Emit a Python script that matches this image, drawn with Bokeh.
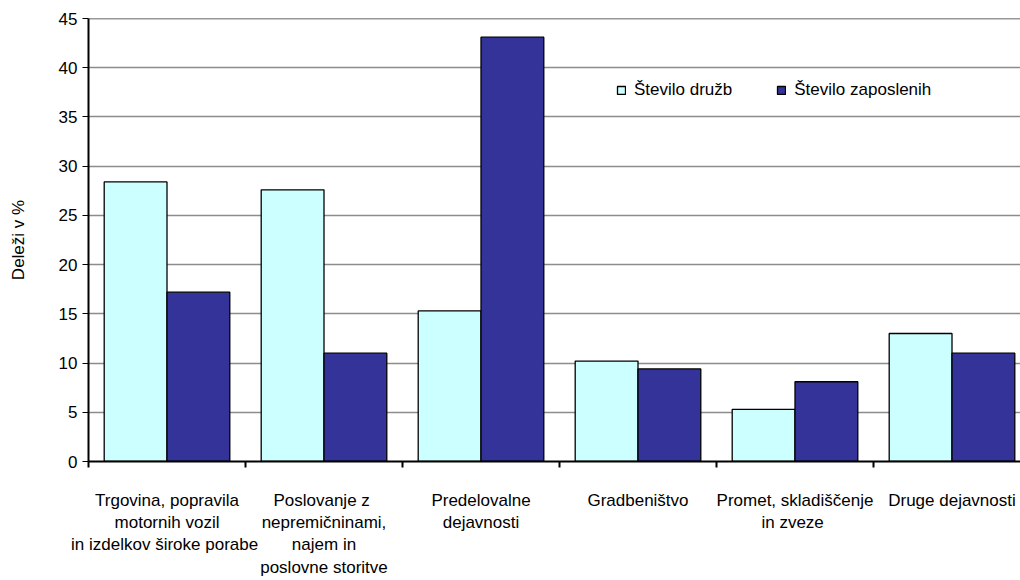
import numpy as np
from bokeh.plotting import figure
from bokeh.models import (ColumnDataSource, Range1d, FixedTicker, Span, Legend, LegendItem)
from bokeh.embed import file_html
from bokeh.resources import INLINE

categories = [
    "Trgovina, popravila\nmotornih vozil\nin izdelkov  široke porabe",
    "Poslovanje  z\nnepremičninami,\nnajem in\nposlovne storitve",
    "Predelovalne\ndejavnosti",
    "Gradbeništvo",
    "Promet, skladiščenje\nin  zveze",
    "Druge dejavnosti",
]
stevilo_druzb = [28.4, 27.6, 15.3, 10.2, 5.3, 13.0]
stevilo_zaposlenih = [17.2, 11.0, 43.1, 9.4, 8.1, 11.0]
y_ticks = [0, 5, 10, 15, 20, 25, 30, 35, 40, 45]
series_names = ["Število družb", "Število zaposlenih"]
colors = ["#CCFFFF", "#333399"]

FONT = "Liberation Sans"
FS = "17px"
n = len(categories)
idx = np.arange(n)
src = ColumnDataSource(dict(
    xl=idx + 0.3, xr=idx + 0.7,
    druzb=stevilo_druzb, zap=stevilo_zaposlenih,
))

p = figure(frame_width=932, frame_height=443, output_backend="svg", toolbar_location=None,
           x_range=Range1d(0, 932 / 157), y_range=Range1d(0, 45),
           min_border_left=88, min_border_top=18, min_border_right=0,
           min_border_bottom=115)
p.outline_line_color = None
p.background_fill_color = "white"

r1 = p.vbar(x="xl", top="druzb", width=0.4, source=src,
            fill_color=colors[0], line_color="black", line_width=1.3)
r2 = p.vbar(x="xr", top="zap", width=0.4, source=src,
            fill_color=colors[1], line_color="black", line_width=1.3)

# y axis
p.yaxis.ticker = FixedTicker(ticks=y_ticks)
p.yaxis.axis_line_width = 2
p.yaxis.axis_line_color = "black"
p.yaxis.major_tick_out = 6
p.yaxis.major_tick_in = 0
p.yaxis.major_tick_line_color = "black"
p.yaxis.minor_tick_line_color = None
p.yaxis.major_label_text_font = FONT
p.yaxis.major_label_text_font_size = FS
p.yaxis.major_label_text_color = "black"
p.yaxis.major_label_standoff = 5
p.yaxis.axis_label = "Deleži v %"
p.yaxis.axis_label_text_font = FONT
p.yaxis.axis_label_text_font_size = FS
p.yaxis.axis_label_text_font_style = "normal"
p.yaxis.axis_label_text_color = "black"
p.yaxis.axis_label_standoff = 28

# x axis
p.xaxis.ticker = FixedTicker(ticks=list(idx + 0.5), minor_ticks=list(range(n + 1)))
p.xaxis.major_label_overrides = {float(i + 0.5): c for i, c in enumerate(categories)}
p.xaxis.axis_line_width = 2
p.xaxis.axis_line_color = "black"
p.xaxis.major_tick_line_color = None
p.xaxis.minor_tick_line_color = "black"
p.xaxis.minor_tick_line_width = 2
p.xaxis.minor_tick_out = 6
p.xaxis.minor_tick_in = 0
p.xaxis.major_label_text_font = FONT
p.xaxis.major_label_text_font_size = FS
p.xaxis.major_label_text_color = "black"
p.xaxis.major_label_text_line_height = 1.18
p.xaxis.major_label_standoff = 23

p.xgrid.grid_line_color = None
p.ygrid.ticker = FixedTicker(ticks=y_ticks)
p.ygrid.grid_line_color = "#8c8c8c"
p.ygrid.grid_line_width = 1.3

p.add_layout(Span(location=45, dimension="width", line_color="#333333", line_width=1.5))

legend = Legend(items=[LegendItem(label=series_names[0], renderers=[r1]),
                       LegendItem(label=series_names[1], renderers=[r2])],
                orientation="horizontal", location=(528, 361),
                glyph_width=10, glyph_height=10, label_standoff=8, spacing=44,
                padding=0, margin=0, border_line_color=None,
                background_fill_alpha=0,
                label_text_font=FONT, label_text_font_size=FS,
                label_text_color="black", label_height=17)
p.add_layout(legend)

open("out.html", "w").write(file_html(p, INLINE))
